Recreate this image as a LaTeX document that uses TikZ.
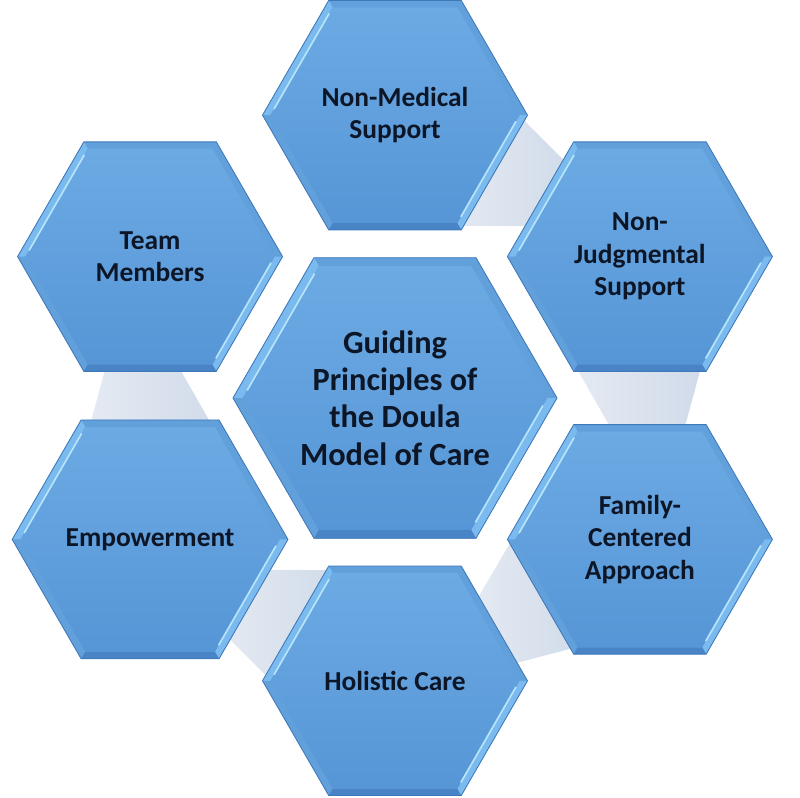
\documentclass[tikz,border=0pt]{standalone}
\usepackage{fontspec}
\setmainfont{Carlito}
\usepackage{tikz}
\usetikzlibrary{shapes.geometric, calc, backgrounds}
\definecolor{hexedge}{RGB}{62, 120, 185}
\definecolor{hexbevel}{RGB}{98, 160, 220}
\definecolor{bevellight}{RGB}{122, 186, 238}
\definecolor{beveldark}{RGB}{72, 132, 198}
\definecolor{facetop}{RGB}{108, 170, 228}
\definecolor{facebottom}{RGB}{86, 150, 214}
\definecolor{glint}{RGB}{182, 228, 250}
\definecolor{bandgrey}{RGB}{208, 218, 233}
\definecolor{labelink}{RGB}{12, 22, 38}

\begin{document}
\begin{tikzpicture}[
  bevel/.style={path picture={
      \coordinate (hc) at (path picture bounding box.center);
      \coordinate (v0) at (path picture bounding box.east);
      \coordinate (v1) at ($(path picture bounding box.north)!0.5!(path picture bounding box.north east)$);
      \coordinate (v2) at ($(path picture bounding box.north)!0.5!(path picture bounding box.north west)$);
      \coordinate (v3) at (path picture bounding box.west);
      \coordinate (v4) at ($(path picture bounding box.south)!0.5!(path picture bounding box.south west)$);
      \coordinate (v5) at ($(path picture bounding box.south)!0.5!(path picture bounding box.south east)$);
      \foreach \k in {0,...,5} {\coordinate (w\k) at ($(hc)!0.94!(v\k)$);}
      \fill[bevellight] (v2) -- (v3) -- (w3) -- (w2) -- cycle;
      \fill[bevellight] (v5) -- (v0) -- (w0) -- (w5) -- cycle;
      \fill[beveldark] (v4) -- (v5) -- (w5) -- (w4) -- cycle;
      \shade[top color=facetop, bottom color=facebottom] (w0) -- (w1) -- (w2) -- (w3) -- (w4) -- (w5) -- cycle;
      \draw[glint, line width=1.2pt, line cap=round] ($(w2)!0.06!(w3)$) -- ($(w2)!0.94!(w3)$);
      \draw[glint, line width=1.2pt, line cap=round] ($(w5)!0.06!(w0)$) -- ($(w5)!0.94!(w0)$);
    }},
  hexcell/.style={regular polygon, regular polygon sides=6, draw=hexedge, line width=0.6pt,
                  fill=hexbevel, bevel, inner sep=0pt, outer sep=0pt, align=center,
                  text=labelink, minimum size=6.625cm,
                  font=\fontsize{19.5}{23}\selectfont\bfseries},
  hexhub/.style={hexcell, minimum size=8.1cm, font=\fontsize{23}{26.5}\selectfont\bfseries},
  linkband/.style={left color=bandgrey!55!white, right color=bandgrey}
]
\useasboundingbox (-9.875,-10) rectangle (10.125,9.95);

% Hub
\node[hexhub] (hub) at (0,0) {Guiding\\Principles of\\the Doula\\Model of Care};

% Ring
\node[hexcell] (nonmedical) at (90:7.07) {Non-Medical\\Support};
\node[hexcell] (nonjudgmental) at (30:7.07) {Non-\\Judgmental\\Support};
\node[hexcell] (familycentered) at (-30:7.07) {Family-\\Centered\\Approach};
\node[hexcell] (holistic) at (-90:7.07) {Holistic Care};
\node[hexcell] (empowerment) at (-150:7.07) {Empowerment};
\node[hexcell] (teammembers) at (150:7.07) {Team\\Members};

% Links
\begin{scope}[on background layer]
\foreach \a/\b in {nonmedical/nonjudgmental, nonjudgmental/familycentered,
                   familycentered/holistic, holistic/empowerment, empowerment/teammembers}
  \shade[linkband] ($(\a)!2.5cm!(\b)!1.6cm!90:(\b)$) -- ($(\a)!4.6cm!(\b)!1.03cm!90:(\b)$)
               -- ($(\a)!4.6cm!(\b)!0.55cm!-90:(\b)$) -- ($(\a)!2.5cm!(\b)!1.75cm!-90:(\b)$) -- cycle;
\end{scope}

\end{tikzpicture}
\end{document}
